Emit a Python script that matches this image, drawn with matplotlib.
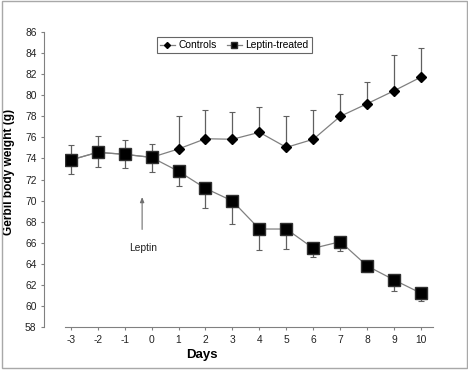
import matplotlib.pyplot as plt
from matplotlib.patches import Rectangle

plt.rcParams['font.family'] = ['Liberation Sans', 'DejaVu Sans']
plt.rcParams['axes.unicode_minus'] = False

# ── Data ──────────────────────────────────────────────────────────────────────
days = [-3, -2, -1, 0, 1, 2, 3, 4, 5, 6, 7, 8, 9, 10]
controls = [73.85, 74.58, 74.39, 74.1, 74.9, 75.87, 75.82, 76.48, 75.05, 75.82, 78.0, 79.2, 80.43, 81.73]
controls_err = [1.45, 1.55, 1.36, 1.27, 3.16, 2.73, 2.62, 2.43, 2.95, 2.78, 2.08, 2.05, 3.39, 2.72]
leptin = [73.85, 74.58, 74.39, 74.1, 72.78, 71.16, 69.96, 67.3, 67.3, 65.47, 66.1, 63.79, 62.46, 61.2]
leptin_err = [1.33, 1.42, 1.33, 1.42, 1.38, 1.89, 2.21, 2.02, 1.92, 0.83, 0.89, 0.57, 1.04, 0.73]

yticks = list(range(58, 87, 2))

# ── Figure ────────────────────────────────────────────────────────────────────
fig = plt.figure(figsize=(4.68, 3.70), dpi=100)
ax = fig.add_axes([0.1389, 0.1162, 0.7870, 0.7973])

grey = '#808080'

# error bars: controls upward, leptin-treated downward
ax.errorbar(days, controls, yerr=[[0] * len(days), controls_err], fmt='none',
            ecolor='#606060', elinewidth=0.9, capsize=2, capthick=0.8, zorder=2)
ax.errorbar(days, leptin, yerr=[leptin_err, [0] * len(days)], fmt='none',
            ecolor='#606060', elinewidth=0.9, capsize=2, capthick=0.8, zorder=2)

ax.plot(days, controls, color=grey, linewidth=0.9, marker='D', markersize=5.5,
        markerfacecolor='black', markeredgecolor='black', label='Controls', zorder=3)
ax.plot(days, leptin, color=grey, linewidth=0.9, marker='s', markersize=8,
        markerfacecolor='black', markeredgecolor='#303030', label='Leptin-treated', zorder=4)

ax.set_xlim(-3.21, 10.45)
ax.set_ylim(58, 86)
ax.set_xticks(days)
ax.set_yticks(yticks)

for side in ['top', 'right']:
    ax.spines[side].set_visible(False)
ax.spines['left'].set_position(('outward', 15))
ax.spines['left'].set_color(grey)
ax.spines['bottom'].set_color(grey)
ax.tick_params(axis='both', colors=grey, labelcolor='#222222', labelsize=7.4,
               length=2.5, width=0.8)
ax.tick_params(axis='y', pad=3)
ax.tick_params(axis='x', pad=3)

ax.set_ylabel('Gerbil body weight (g)', fontsize=8.6, fontweight='bold')
ax.yaxis.set_label_coords(-0.136, 0.525)
fig.text(202 / 468, 1 - 355 / 370, 'Days', fontsize=9.5, fontweight='bold',
         ha='center', va='center')

# leptin arrow
ax.annotate('', xy=(-0.35, 70.6), xytext=(-0.35, 67.0),
            arrowprops=dict(arrowstyle='-|>,head_length=0.3,head_width=0.12',
                            color='#707070', linewidth=0.8))
ax.text(-0.31, 65.5, 'Leptin', fontsize=7.4, ha='center', va='center', color='#222222')

leg = ax.legend(loc='upper center', bbox_to_anchor=(0.459, 1.0), ncol=2,
                fontsize=7.4, frameon=True, fancybox=False, shadow=False,
                handlelength=1.5, handletextpad=0.3, columnspacing=1.0,
                borderpad=0.3, markerscale=0.55)
leg.get_frame().set_edgecolor('#404040')
leg.get_frame().set_linewidth(0.8)

# outer border
fig.patches.append(Rectangle((2 / 468, 2 / 370), 465 / 468, 367 / 370,
                             transform=fig.transFigure, fill=False,
                             edgecolor='#a8a8a8', linewidth=1.0))

fig.savefig('out.png', dpi=100)
